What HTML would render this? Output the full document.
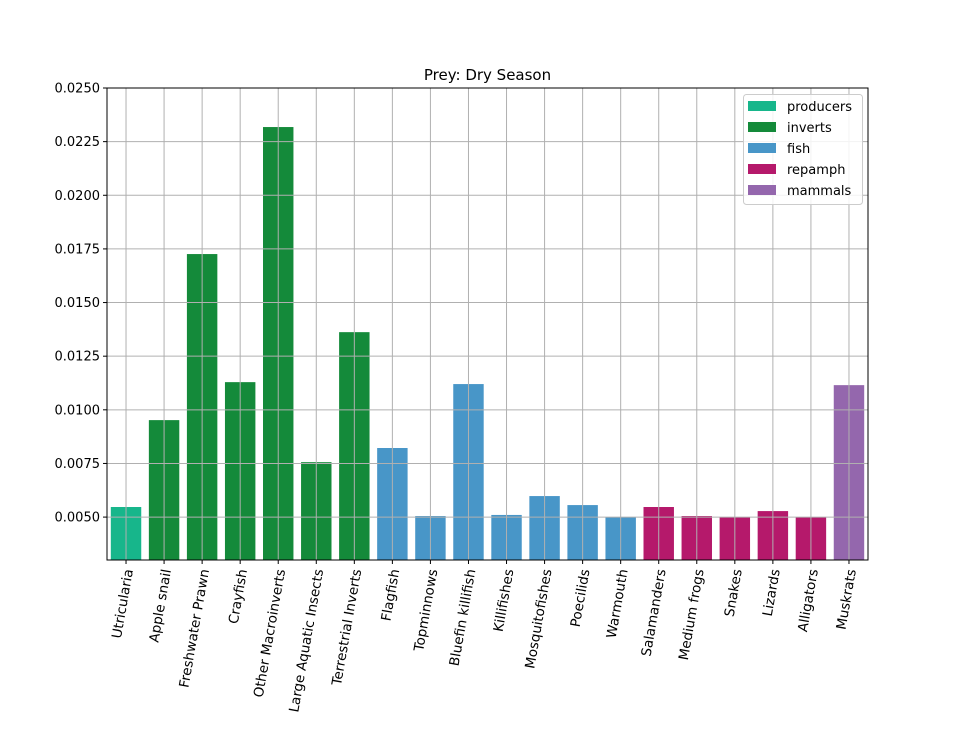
<!DOCTYPE html>
<html><head><meta charset="utf-8"><style>body{margin:0;background:#fff}svg{display:block;font-family:"DejaVu Sans","Liberation Sans",sans-serif}</style></head>
<body>
<svg id="chart" width="966" height="732"></svg>
<script>
const categories=["Utricularia","Apple snail","Freshwater Prawn","Crayfish","Other Macroinverts","Large Aquatic Insects","Terrestrial Inverts","Flagfish","Topminnows","Bluefin killifish","Killifishes","Mosquitofishes","Poecilids","Warmouth","Salamanders","Medium frogs","Snakes","Lizards","Alligators","Muskrats"];
const values=[0.00547,0.00952,0.01726,0.01129,0.02318,0.00756,0.01362,0.00822,0.00505,0.0112,0.0051,0.00598,0.00556,0.0050,0.00547,0.00505,0.0050,0.00528,0.0050,0.01115];
const groups=["producers","inverts","inverts","inverts","inverts","inverts","inverts","fish","fish","fish","fish","fish","fish","fish","repamph","repamph","repamph","repamph","repamph","mammals"];
const groupNames=["producers","inverts","fish","repamph","mammals"];
const groupColors=["#17b68b","#148a3a","#4896c8","#b5196b","#9467ad"];
const yTicks=[0.0050,0.0075,0.0100,0.0125,0.0150,0.0175,0.0200,0.0225,0.0250];
const yTickLabels=["0.0050","0.0075","0.0100","0.0125","0.0150","0.0175","0.0200","0.0225","0.0250"];

const NS="http://www.w3.org/2000/svg",svg=document.getElementById('chart');
const L=107,R=868,T=88,B=560,yMin=0.0030,yMax=0.0250;
const y=v=>B-(v-yMin)/(yMax-yMin)*(B-T);
const step=(R-L)/categories.length;
const x=i=>L+step*(i+0.5);
function el(t,a,txt){const e=document.createElementNS(NS,t);for(const k in a)e.setAttribute(k,a[k]);if(txt!=null)e.textContent=txt;svg.appendChild(e);return e;}
categories.forEach((c,i)=>{
  const b=el('rect',{x:x(i)-step*0.4,y:y(values[i]),width:step*0.8,height:B-y(values[i]),fill:groupColors[groupNames.indexOf(groups[i])]});
  
  
});
yTicks.forEach((v,i)=>{
  const g=el('line',{x1:L,x2:R,y1:y(v),y2:y(v),stroke:'#b0b0b0','stroke-width':1});
  
  
  el('line',{x1:L-4,x2:L,y1:y(v),y2:y(v),stroke:'#000'});
  const t=el('text',{x:L-7,y:y(v)+4.5,'text-anchor':'end','font-size':13},yTickLabels[i]);
  
  
});
categories.forEach((c,i)=>{
  const g=el('line',{x1:x(i),x2:x(i),y1:T,y2:B,stroke:'#b0b0b0','stroke-width':1});
  
  
  el('line',{x1:x(i),x2:x(i),y1:B,y2:B+4,stroke:'#000'});
  const t=el('text',{x:0,y:0,'text-anchor':'end','font-size':13.5,transform:`translate(${x(i)+7},${B+10}) rotate(-80)`},c);
  
  
});
el('rect',{x:L,y:T,width:R-L,height:B-T,fill:'none',stroke:'#000','stroke-width':1,});
el('text',{x:(L+R)/2,y:80,'text-anchor':'middle','font-size':15,},'Prey: Dry Season');
const lg=el('rect',{x:743.5,y:94.5,width:119,height:110,rx:3,fill:'#fff','fill-opacity':0.85,stroke:'#ccc',});
groupNames.forEach((g,i)=>{
  const r=el('rect',{x:748,y:101+i*21,width:28,height:10,fill:groupColors[i]});
  
  
  const t=el('text',{x:787,y:111+i*21,'font-size':13},g);
  
  
});
</script>
</body></html>
